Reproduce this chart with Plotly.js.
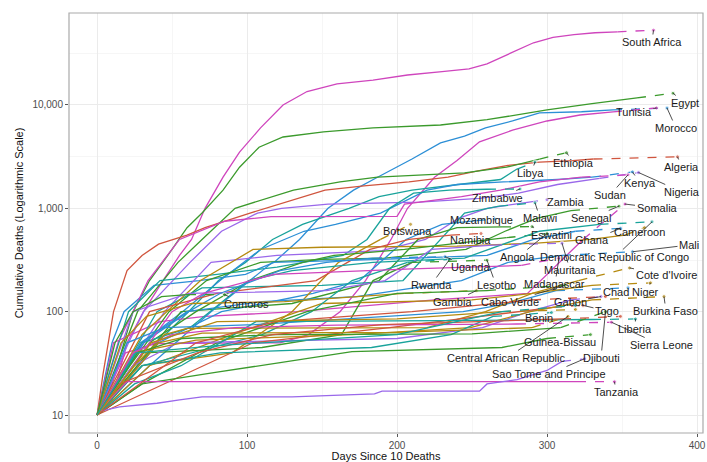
<!DOCTYPE html>
<html><head><meta charset="utf-8">
<script src="https://cdn.plot.ly/plotly-3.0.1.min.js"></script>
<style>html,body{margin:0;padding:0;background:#fff}#chart{width:707px;height:462px}</style>
</head><body><div id="chart"></div>
<script>
// ---------- DATA (last point of each series = dashed end) ----------
const countries = ["South Africa","Egypt","Morocco","Tunisia","Algeria","Ethiopia","Libya","Kenya","Nigeria","Sudan",
"Zimbabwe","Zambia","Somalia","Senegal","Malawi","Mozambique","Botswana","Cameroon","Eswatini","Namibia",
"Ghana","Mali","Angola","Democratic Republic of Congo","Mauritania","Uganda","Cote d'Ivoire","Rwanda","Lesotho","Madagascar",
"Chad","Niger","Gambia","Cabo Verde","Gabon","Togo","Burkina Faso","Benin","Liberia","Sierra Leone",
"Guinea-Bissau","Central African Republic","Djibouti","Tanzania","Sao Tome and Principe","Comoros","Guinea","Congo","Equatorial Guinea","South Sudan"];

const days = [
[0,10,20,31,44,55,63,72,84,95,109,124,140,160,184,207,230,248,260,272,282,291,304,318,332,347,371],
[0,10,24,35,50,60,70,84,95,108,124,151,184,229,260,300,330,360,384],
[0,10,18,38,68,99,118,135,154,171,187,210,229,245,259,277,295,323,344,380],
[0,19,39,122,141,162,179,196,207,225,240,255,277,300,322,344,373],
[0,4,11,20,30,41,60,72,102,121,137,152,178,208,234,254,274,295,317,331,387],
[0,27,44,54,70,92,131,162,187,214,245,273,295,313],
[0,40,61,81,99,117,137,168,188,210,241,269,280,292],
[0,30,57,82,109,138,159,189,220,240,271,307,330,357],
[0,21,31,62,83,107,123,154,215,255,281,307,335,361],
[0,14,34,55,85,116,200,205,243,269,295,323,354],
[0,6,21,42,80,120,164,180,195,211,235,260,282],
[0,45,76,120,190,219,241,260,288,300],
[0,11,42,72,133,225,287,324,352],
[0,22,48,73,109,150,192,246,272,293,316,348],
[0,40,70,150,204,229,245,268,292],
[0,41,83,144,175,206,230,253,265],
[0,30,90,130,161,189,209],
[0,30,69,104,150,240,293,329,352,365],
[0,56,130,188,214,240,270,290],
[0,35,80,146,167,182,208,236,256],
[0,35,76,117,190,260,291,319,349],
[0,29,60,110,173,243,274,310,357],
[0,35,66,102,137,158,205,236,273,300],
[0,30,62,101,130,184,245,295,335,370],
[0,24,61,153,192,223,264,310],
[0,31,61,82,122,153,184,232],
[0,35,90,150,250,290,321,355],
[0,30,110,143,170,207,235],
[0,31,110,163,184,210,260],
[0,35,50,71,118,210,283,308],
[0,20,45,105,244,275,306,354],
[0,25,45,60,220,259,290,330,369],
[0,16,33,63,125,205,253],
[0,30,80,140,200,260,312],
[0,24,54,200,257,288,316,336],
[0,45,104,195,256,304,324],
[0,24,66,170,249,289,330,378],
[0,30,82,183,236,264,303],
[0,25,56,106,230,330,359],
[0,24,50,92,160,280,343],
[0,30,80,170,270,300,329],
[0,41,70,200,290,314],
[0,27,57,120,250,309,339],
[0,6,12,20,320,345],
[0,3,15,40,55,70,130,185,190,255,260,280,300,310,325],
[0,12,24,43,60,85],
[0,15,67,117,190,250,310,349],
[0,66,119,210,290,339],
[0,36,80,200,270,319],
[0,26,80,200,270,319]
];

const deaths = [
[10,14,50,100,200,350,500,1000,2000,3500,6000,10000,13500,16000,17400,19500,21000,22300,25000,30000,35000,40000,45000,48000,50000,51000,53000],
[10,20,100,200,400,650,900,1500,2500,3900,4900,5500,6000,6400,7200,8950,10300,11700,13000],
[10,50,100,180,200,230,300,500,1000,1500,2000,3000,4300,5000,6000,7000,8370,8600,8950,9350],
[10,40,49,50,60,100,200,500,1000,2000,2900,4400,5700,7000,8000,8560,9350],
[10,25,100,250,350,450,550,650,900,1100,1300,1500,1650,1800,2000,2300,2600,2800,2900,3000,3150],
[10,100,200,300,500,1000,1500,1800,2000,2100,2200,2500,3000,3450],
[10,50,100,200,300,500,700,1000,1300,1500,1700,1900,2400,2800],
[10,50,100,200,400,600,700,900,1500,1700,1800,1900,2000,2250],
[10,50,100,300,600,900,1000,1100,1150,1250,1400,1700,1950,2220],
[10,50,200,500,750,830,836,1100,1300,1500,1800,2000,2110],
[10,20,100,200,230,270,350,500,1000,1400,1500,1530,1540],
[10,100,300,350,390,500,800,1000,1150,1210],
[10,50,80,90,100,130,150,500,1100],
[10,30,100,200,300,320,330,400,600,800,950,1050],
[10,100,170,180,200,500,900,1050,1130],
[10,50,100,150,200,500,700,760,790],
[10,30,40,100,300,500,700],
[10,60,200,400,420,430,460,500,550,650],
[10,100,120,200,500,650,660,665],
[10,100,150,200,300,400,500,550,570],
[10,30,100,300,320,350,500,600,640],
[10,50,100,125,140,200,300,350,380],
[10,50,100,200,300,350,400,450,520,570],
[10,50,70,200,250,300,330,600,700,740],
[10,100,150,160,200,400,440,460],
[10,50,100,150,250,300,330,340],
[10,30,60,120,130,150,200,265],
[10,30,60,100,200,300,320],
[10,40,45,60,200,300,315],
[10,50,100,150,230,260,280,330],
[10,50,70,75,100,120,160,170],
[10,30,60,69,70,100,150,180,190],
[10,50,90,120,125,150,160],
[10,20,50,100,150,160,180],
[10,30,50,55,70,100,130,140],
[10,20,50,70,90,110,115],
[10,40,53,60,70,100,130,140],
[10,30,40,45,60,90,98],
[10,20,30,80,82,84,85],
[10,40,60,70,74,76,79],
[10,20,26,41,45,55,60],
[10,50,62,63,70,90],
[10,40,55,60,61,70,100],
[10,13,16,21,21,21],
[10,11,12,13,14,15,15,16,17,17,20,22,27,33,35],
[10,50,100,140,146,146],
[10,20,40,60,75,80,85,90],
[10,50,80,100,130,140],
[10,50,80,85,100,105],
[10,40,47,60,100,115]
];

const xTicks = [0,100,200,300,400];
const yTicks = [10,100,1000,10000];
const yTickText = ["10","100","1,000","10,000"];

// ---------- STYLE / POSITIONS ----------
const pal = {r:'#D0553E', o:'#B58A10', g:'#3B9A2C', t:'#19A39B', b:'#2C8FD6', p:'#9A68EA', m:'#CF45BD'};
const colKey = ['m','g','b','m','r','g','t','b','p','m',
                't','p','m','g','t','b','o','o','g','r',
                'b','b','g','t','p','b','o','t','g','m',
                'b','o','o','g','p','r','o','t','t','m',
                'g','o','g','m','p','g','r','r','o','t'];
const colorOf = i => pal[colKey[i]];
// label centre in pixels (page coordinates); null = no label
const labelPx = [
[652,42],[685,103],[676,128],[634,112],[682,167],[574,163],[531,173],[640,183],[682,192],[610,195],
[498,198],[566,202],[657,208],[591,218],[540,218],[481,220],[408,231],[640,232],[552,235],[470,240],
[592,240],[689,245],[518,257],[615,257],[570,270],[471,267],[666,275],[431,285],[496,285],[555,284],
[616,292],[646,292],[452,302],[510,302],[570,302],[607,311],[666,311],[539,318],[635,329],[661,345],
[560,342],[507,358],[601,358],[616,392],[549,374],[246,304],null,null,null,null
];

const W = 707, H = 462;
const M = {l:69, r:4, t:13, b:29};
const xRange = [-18.7, 404];
const yRange = [0.826, 4.89];

const traces = [];
countries.forEach((c, i) => {
  const x = days[i], y = deaths[i], n = x.length;
  const col = colorOf(i);
  traces.push({x: x.slice(0, n-1), y: y.slice(0, n-1), type:'scatter', mode:'lines',
    line:{color:col, width:1.3}, hoverinfo:'skip', showlegend:false});
  traces.push({x: x.slice(n-2), y: y.slice(n-2), type:'scatter', mode:'lines+markers',
    line:{color:col, width:1.3, dash:'dash'}, marker:{size:[0,4], color:col},
    hoverinfo:'skip', showlegend:false});
});

const pw = W - M.l - M.r, ph = H - M.t - M.b;
const toPx = (xv, yv) => [M.l + (xv - xRange[0]) / (xRange[1]-xRange[0]) * pw,
                          M.t + (yRange[1] - Math.log10(yv)) / (yRange[1]-yRange[0]) * ph];
const annotations = [];
countries.forEach((c, i) => {
  if (!labelPx[i]) return;
  const n = days[i].length;
  const ex = days[i][n-1], ey = deaths[i][n-1];
  const p = toPx(ex, ey);
  annotations.push({x: ex, y: Math.log10(ey), xref:'x', yref:'y', text: c,
    showarrow:true, arrowhead:0, arrowwidth:0.8, arrowcolor:'#222', standoff:0,
    ax: labelPx[i][0] - p[0], ay: labelPx[i][1] - p[1],
    font:{size:11, color:'#1a1a1a', family:'Liberation Sans, Arial, sans-serif'}});
});

const layout = {
  width: W, height: H, margin: M, paper_bgcolor:'#fff', plot_bgcolor:'#fff',
  font:{family:'Liberation Sans, Arial, sans-serif'},
  showlegend:false,
  xaxis:{range:xRange, tickvals:xTicks, ticks:'outside', ticklen:3, tickcolor:'#555', tickwidth:1,
    showgrid:true, gridcolor:'#EBEBEB', gridwidth:1, zeroline:false, showline:false,
    minor:{tickvals:[50,150,250,350], showgrid:true, gridcolor:'#F6F6F6', gridwidth:1, ticks:''},
    tickfont:{size:10, color:'#4D4D4D'},
    title:{text:'Days Since 10 Deaths', font:{size:11, color:'#111'}, standoff:4}},
  yaxis:{type:'log', range:yRange, tickvals:yTicks, ticktext:yTickText, ticks:'outside', ticklen:3,
    tickcolor:'#555', tickwidth:1, showgrid:true, gridcolor:'#EBEBEB', gridwidth:1, zeroline:false,
    minor:{tickvals:[31.6,316,3162,31623], showgrid:true, gridcolor:'#F6F6F6', gridwidth:1, ticks:''},
    tickfont:{size:10, color:'#4D4D4D'},
    title:{text:'Cumulative Deaths (Logarithmic Scale)', font:{size:11, color:'#111'}, standoff:6}},
  shapes:[{type:'rect', xref:'paper', yref:'paper', x0:0, x1:1, y0:0, y1:1,
    line:{color:'#AAAAAA', width:1.2}, fillcolor:'rgba(0,0,0,0)', layer:'above'}],
  annotations: annotations
};
Plotly.newPlot('chart', traces, layout, {staticPlot:true, displayModeBar:false});
</script></body></html>
